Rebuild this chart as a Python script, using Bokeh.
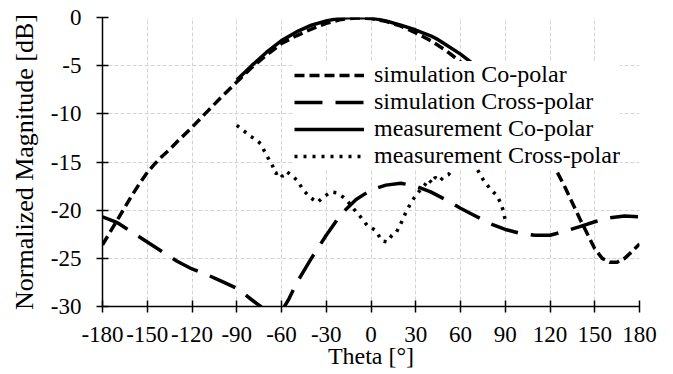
from bokeh.plotting import figure
from bokeh.models import FixedTicker, Legend, LegendItem, Range1d
from bokeh.embed import file_html
from bokeh.resources import INLINE

# ---- data ----
sim_co_theta = [-180, -175, -170, -165, -160, -155, -150, -145, -140, -135, -130, -120, -110, -100, -90, -80,
                -70, -60, -50, -40, -30, -20, -10, 0, 10, 20, 30, 40, 50, 60, 70, 80, 90, 100, 110, 120,
                125, 130, 140, 150, 155, 160, 165, 170, 175, 180]
sim_co_mag = [-23.6, -22.3, -21.0, -19.7, -18.4, -17.2, -16.1, -15.2, -14.4, -13.7, -12.9, -11.4, -9.8, -8.2,
              -6.7, -5.2, -3.9, -2.7, -1.9, -1.2, -0.6, -0.2, -0.05, -0.1, -0.4, -0.9, -1.6, -2.4, -3.4,
              -4.6, -5.9, -7.3, -8.8, -10.4, -12.3, -14.8, -16.1, -17.6, -20.9, -24.0, -25.0, -25.4,
              -25.4, -25.0, -24.3, -23.5]

sim_cx_theta = [-180, -170, -160, -150, -140, -130, -120, -110, -100, -90, -80, -74, -70, -66, -62, -58,
                -55, -50, -45, -40, -35, -30, -20, -10, 0, 10, 20, 30, 40, 50, 60, 70, 80, 90, 100,
                110, 120, 130, 140, 150, 160, 170, 180]
sim_cx_mag = [-20.7, -21.3, -22.3, -23.3, -24.3, -25.3, -26.1, -26.7, -27.4, -28.1, -29.3, -30.0, -30.7, -31.0,
              -30.8, -30.0, -29.2, -27.6, -26.3, -25.0, -23.8, -22.6, -20.4, -18.9, -17.9, -17.4, -17.2,
              -17.5, -18.1, -18.9, -19.8, -20.6, -21.4, -22.0, -22.4, -22.6, -22.6, -22.2, -21.7, -21.2,
              -20.8, -20.6, -20.7]

meas_co_theta = [-90, -80, -70, -60, -50, -40, -30, -20, -10, 0, 10, 20, 30, 40, 45, 50, 60, 70, 80, 90]
meas_co_mag = [-6.5, -5.0, -3.6, -2.4, -1.5, -0.8, -0.35, -0.05, 0.0, -0.05, -0.35, -0.8, -1.3, -1.9,
               -2.3, -2.8, -3.8, -5.0, -6.6, -8.4]

meas_cx_theta = [-90, -85, -81, -77, -74, -70, -66, -64, -61, -59.5, -56.5, -53, -49.5, -45, -40.5, -36,
                 -31.5, -27, -23, -19, -16, -11.5, -7, -2.5, 3, 7.5, 11, 14, 17, 20, 24, 29, 33, 36,
                 38.5, 41, 43, 46, 49, 52, 55.5, 60, 65, 68, 71, 75.5, 80, 84.5, 87, 89, 90]
meas_cx_mag = [-11.2, -11.8, -12.3, -12.7, -13.1, -14.3, -15.4, -16.2, -16.0, -16.5, -16.0, -16.4, -16.9,
               -18.0, -18.7, -19.2, -18.6, -18.1, -18.2, -18.6, -19.0, -19.9, -20.7, -21.6, -22.1, -23.2,
               -23.3, -22.6, -22.3, -21.4, -20.0, -18.7, -17.9, -17.4, -16.8, -17.2, -16.6, -17.0, -16.5,
               -16.3, -15.5, -14.8, -14.4, -14.9, -15.7, -16.9, -17.8, -18.5, -19.3, -20.2, -21.1]

x_ticks = [-180, -150, -120, -90, -60, -30, 0, 30, 60, 90, 120, 150, 180]
y_ticks = [-30, -25, -20, -15, -10, -5, 0]

labels = ["simulation Co-polar", "simulation Cross-polar",
          "measurement Co-polar", "measurement Cross-polar"]

FONT = "Liberation Serif"

p = figure(width=673, height=374, output_backend="svg", toolbar_location=None,
           x_range=Range1d(-180, 180), y_range=Range1d(-30, 0),
           min_border_left=102, min_border_right=34, min_border_top=17, min_border_bottom=68)
p.outline_line_color = None
p.background_fill_color = "white"
p.border_fill_color = "white"

# grid
for g in (p.xgrid, p.ygrid):
    g.grid_line_color = "#d4d4d4"
    g.grid_line_dash = "4 2"
    g.grid_line_width = 1
p.xgrid.ticker = FixedTicker(ticks=x_ticks)
p.ygrid.ticker = FixedTicker(ticks=y_ticks)

# axes
p.xaxis.ticker = FixedTicker(ticks=x_ticks)
p.yaxis.ticker = FixedTicker(ticks=y_ticks)
p.xaxis.major_label_overrides = {t: str(t) for t in x_ticks}
p.yaxis.major_label_overrides = {t: str(t) for t in y_ticks}
for ax in (p.xaxis, p.yaxis):
    ax.axis_line_color = "black"
    ax.axis_line_width = 1.5
    ax.major_tick_line_color = "black"
    ax.major_tick_line_width = 1.5
    ax.major_tick_in = 6
    ax.major_tick_out = 6
    ax.minor_tick_line_color = None
    ax.major_label_text_font = FONT
    ax.major_label_text_font_size = "23px"
    ax.major_label_text_color = "black"
    ax.axis_label_text_font = FONT
    ax.axis_label_text_font_style = "normal"
    ax.axis_label_text_color = "black"
p.xaxis.axis_label_text_font_size = "24px"
p.yaxis.axis_label_text_font_size = "26px"
p.xaxis.axis_label = "Theta [°]"
p.yaxis.axis_label = "Normalized Magnitude [dB]"
p.xaxis.major_label_standoff = 14
p.xaxis.axis_label_standoff = -2
p.yaxis.major_label_standoff = 15
p.yaxis.axis_label_standoff = 9

# lines
r1 = p.line(sim_co_theta, sim_co_mag, line_color="black", line_width=3.5, line_dash="10 5")
r2 = p.line(sim_cx_theta, sim_cx_mag, line_color="black", line_width=3.5, line_dash="28 13")
r3 = p.line(meas_co_theta, meas_co_mag, line_color="black", line_width=3.5)
r4 = p.line(meas_cx_theta, meas_cx_mag, line_color="black", line_width=3.5, line_dash="3 6")

legend = Legend(items=[LegendItem(label=labels[0], renderers=[r1]),
                       LegendItem(label=labels[1], renderers=[r2]),
                       LegendItem(label=labels[2], renderers=[r3]),
                       LegendItem(label=labels[3], renderers=[r4])],
                location=(192, 137))
legend.background_fill_color = "white"
legend.background_fill_alpha = 1.0
legend.border_line_color = None
legend.label_text_font = FONT
legend.label_text_font_size = "24px"
legend.label_text_color = "black"
legend.glyph_width = 70
legend.glyph_height = 22
legend.label_height = 22
legend.label_standoff = 10
legend.spacing = -2
legend.padding = 3
legend.margin = 0
p.add_layout(legend)

open("out.html", "w").write(file_html(p, INLINE))
